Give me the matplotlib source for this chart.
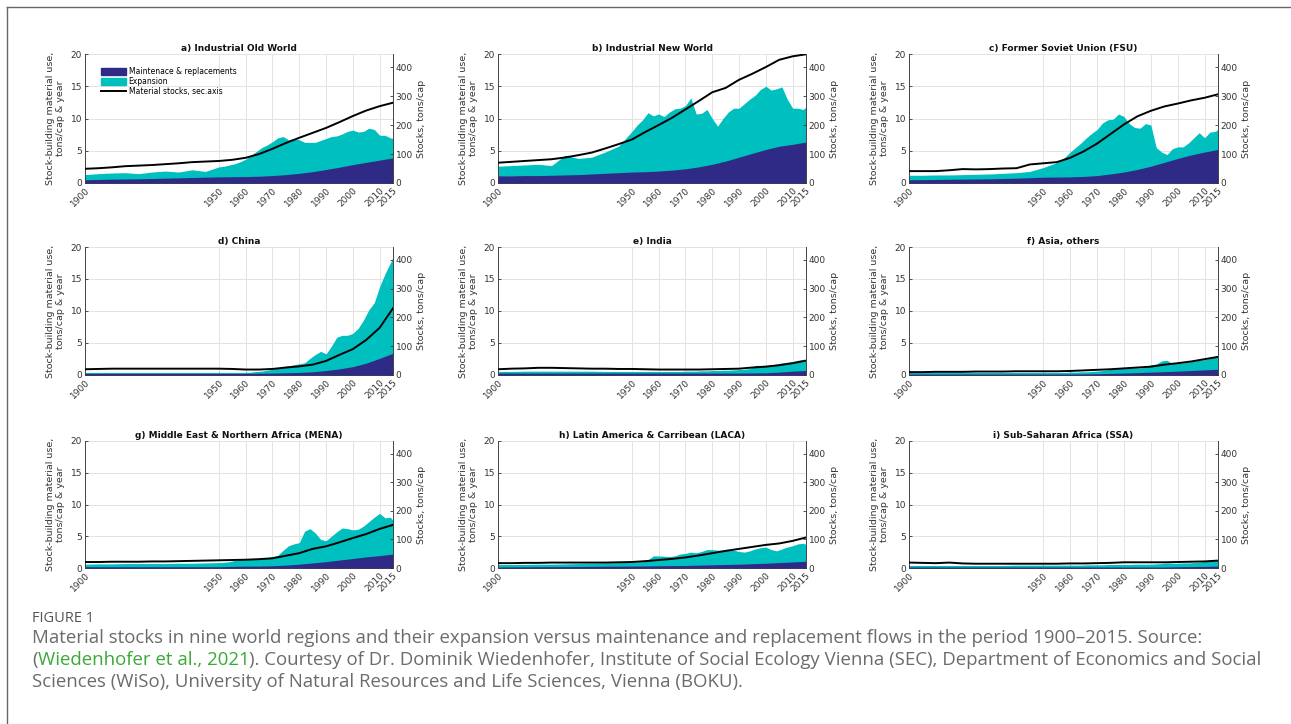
import matplotlib
matplotlib.use('Agg')
import matplotlib.pyplot as plt
from matplotlib.lines import Line2D
import numpy as np

# years for the stacked area (5-yr before 1950, 2-yr after) and for smooth series
years_fine = [1900, 1905, 1910, 1915, 1920, 1925, 1930, 1935, 1940, 1945] + list(range(1950, 2015, 2)) + [2015]
years_5 = list(range(1900, 2016, 5))

titles = ['a) Industrial Old World', 'b) Industrial New World', 'c) Former Soviet Union (FSU)',
          'd) China', 'e) India', 'f) Asia, others',
          'g) Middle East & Northern Africa (MENA)', 'h) Latin America & Carribean (LACA)',
          'i) Sub-Saharan Africa (SSA)']

# total stock-building material use (top of cyan area), tons/cap & year
tot_a = [1.3, 1.45, 1.55, 1.6, 1.45, 1.7, 1.85, 1.7, 2.05, 1.8,
         2.5, 2.6, 2.8, 3.0, 3.3, 3.7, 4.3, 4.9, 5.5, 5.9, 6.4, 7.0, 7.2, 6.7, 6.9, 6.7, 6.3, 6.3, 6.3, 6.6,
         6.9, 7.2, 7.3, 7.6, 8.0, 8.2, 7.9, 8.0, 8.5, 8.3, 7.4, 7.4, 7.0, 6.9]
tot_b = [2.6, 2.7, 2.8, 2.9, 2.7, 4.3, 3.8, 4.0, 4.8, 5.7,
         8.0, 9.0, 9.8, 10.9, 10.4, 10.7, 10.3, 11.0, 11.5, 11.6, 12.0, 13.2, 10.7, 10.8, 11.4, 10.0, 8.8, 10.0,
         11.0, 11.6, 11.6, 12.3, 13.0, 13.6, 14.5, 15.0, 14.4, 14.6, 14.9, 13.0, 11.6, 11.6, 11.4, 11.8]
tot_c = [1.2, 1.2, 1.25, 1.25, 1.3, 1.35, 1.4, 1.5, 1.6, 1.8,
         2.4, 2.7, 3.0, 3.4, 4.0, 4.8, 5.5, 6.2, 7.0, 7.7, 8.3, 9.3, 9.8, 9.9, 10.7, 10.3, 9.2, 8.6, 8.5, 9.2,
         9.0, 5.5, 4.8, 4.4, 5.3, 5.6, 5.6, 6.2, 7.0, 7.8, 7.0, 7.9, 8.0, 8.3]
tot_d = [0.4, 0.4, 0.4, 0.4, 0.4, 0.4, 0.4, 0.4, 0.4, 0.4,
         0.4, 0.4, 0.4, 0.4, 0.4, 0.4, 0.45, 0.55, 0.6, 0.75, 0.9, 1.1, 1.3, 1.45, 1.6, 1.75, 1.9, 2.6, 3.2, 3.7,
         3.3, 4.5, 5.9, 6.2, 6.2, 6.5, 7.3, 8.6, 10.2, 11.3, 13.8, 15.8, 17.5, 18.4]
tot_e = [0.55, 0.55, 0.6, 0.6, 0.6, 0.6, 0.6, 0.6, 0.55, 0.55,
         0.55, 0.55, 0.55, 0.55, 0.55, 0.55, 0.55, 0.55, 0.55, 0.55, 0.6, 0.6, 0.6, 0.65, 0.65, 0.7, 0.7, 0.75,
         0.75, 0.8, 0.85, 0.9, 1.0, 1.5, 1.5, 1.5, 1.6, 1.7, 1.9, 2.0, 2.1, 2.3, 2.45, 2.4]
tot_f = [0.4, 0.4, 0.4, 0.4, 0.4, 0.4, 0.4, 0.4, 0.4, 0.4,
         0.4, 0.4, 0.4, 0.4, 0.4, 0.45, 0.45, 0.5, 0.5, 0.55, 0.6, 0.7, 0.8, 0.95, 1.0, 1.0, 1.05, 1.1, 1.1, 1.2,
         1.6, 1.7, 2.2, 2.3, 1.8, 1.8, 1.9, 2.0, 2.2, 2.3, 2.4, 2.6, 2.8, 2.8]
tot_g = [0.6, 0.65, 0.65, 0.7, 0.7, 0.7, 0.7, 0.75, 0.75, 0.8,
         0.85, 0.9, 1.0, 1.2, 1.4, 1.5, 1.5, 1.45, 1.5, 1.6, 1.8, 2.0, 2.8, 3.5, 3.8, 4.0, 5.8, 6.2, 5.5, 4.5,
         4.3, 5.0, 5.7, 6.3, 6.2, 6.0, 6.1, 6.6, 7.3, 8.0, 8.6, 7.9, 8.0, 7.5]
tot_h = [0.55, 0.55, 0.55, 0.6, 0.6, 0.65, 0.7, 0.75, 0.8, 0.85,
         0.9, 0.95, 1.0, 1.3, 1.9, 1.9, 1.85, 1.8, 1.9, 2.2, 2.3, 2.5, 2.4, 2.6, 2.9, 2.9, 2.8, 2.8, 2.95, 2.8,
         2.6, 2.5, 2.7, 3.0, 3.2, 3.3, 2.9, 2.7, 3.0, 3.3, 3.5, 3.8, 3.9, 3.7]
tot_i = [0.4, 0.4, 0.4, 0.4, 0.4, 0.4, 0.4, 0.4, 0.45, 0.45,
         0.45, 0.45, 0.45, 0.45, 0.45, 0.45, 0.45, 0.45, 0.5, 0.5, 0.5, 0.5, 0.55, 0.55, 0.55, 0.55, 0.55, 0.6,
         0.6, 0.6, 0.6, 0.65, 0.7, 0.8, 0.75, 0.75, 0.8, 0.8, 0.85, 0.9, 1.0, 1.2, 1.3, 1.3]

# maintenance & replacements, tons/cap & year (5-yr steps)
mnt_a = [.5, .55, .6, .62, .65, .7, .75, .8, .85, .9, .95, .97, 1.0, 1.05, 1.15, 1.3, 1.5, 1.75, 2.1, 2.45, 2.85, 3.2, 3.55, 3.9]
mnt_b = [1.1, 1.1, 1.15, 1.15, 1.2, 1.25, 1.3, 1.4, 1.5, 1.6, 1.7, 1.75, 1.85, 2.0, 2.2, 2.5, 2.9, 3.4, 4.0, 4.6, 5.2, 5.7, 6.0, 6.35]
mnt_c = [.5, .52, .55, .58, .6, .62, .65, .7, .75, .82, .9, .92, .95, 1.02, 1.15, 1.4, 1.7, 2.1, 2.6, 3.2, 3.8, 4.35, 4.8, 5.2]
mnt_d = [.25, .25, .25, .25, .25, .25, .25, .25, .25, .25, .25, .25, .25, .28, .3, .35, .4, .5, .7, .95, 1.3, 1.85, 2.6, 3.4]
mnt_e = [.3, .3, .3, .3, .3, .3, .3, .3, .3, .3, .3, .3, .3, .3, .3, .3, .3, .3, .3, .32, .35, .45, .6, .7]
mnt_f = [.15, .15, .15, .15, .15, .15, .15, .15, .15, .15, .15, .15, .15, .17, .2, .25, .3, .37, .45, .52, .6, .7, .8, .9]
mnt_g = [.2, .2, .2, .2, .2, .2, .2, .2, .2, .2, .2, .25, .3, .3, .35, .45, .6, .8, 1.0, 1.25, 1.5, 1.75, 1.95, 2.2]
mnt_h = [.15, .17, .18, .2, .21, .22, .24, .26, .28, .29, .3, .32, .35, .37, .4, .45, .5, .55, .6, .68, .75, .85, .95, 1.05]
mnt_i = [.15, .15, .15, .15, .15, .15, .15, .15, .15, .15, .15, .15, .15, .15, .15, .15, .15, .15, .15, .15, .2, .22, .25, .3]

# material stocks, tons/cap (secondary axis, 5-yr steps)
stk_a = [49, 51, 54, 58, 60, 62, 65, 68, 72, 74, 76, 80, 87, 100, 118, 138, 156, 173, 190, 210, 231, 250, 265, 277]
stk_b = [70, 73, 76, 79, 82, 88, 96, 105, 119, 134, 150, 176, 200, 225, 254, 283, 313, 328, 356, 377, 400, 425, 437, 444]
stk_c = [41, 41, 41, 44, 48, 47, 48, 50, 51, 64, 68, 72, 87, 109, 136, 169, 202, 230, 249, 264, 274, 285, 294, 306]
stk_d = [20, 21, 22, 22, 22, 22, 22, 22, 22, 22, 22, 21, 19, 19, 21, 26, 30, 36, 49, 70, 90, 122, 164, 232]
stk_e = [20, 22, 23, 25, 25, 24, 23, 22, 22, 21, 21, 20, 19, 19, 19, 19, 20, 21, 22, 26, 29, 34, 41, 50]
stk_f = [10, 10, 11, 11, 11, 12, 12, 12, 13, 13, 13, 13, 14, 16, 18, 20, 23, 26, 29, 36, 41, 47, 55, 63]
stk_g = [21, 21, 22, 22, 22, 23, 23, 24, 25, 26, 27, 28, 29, 31, 34, 43, 52, 67, 76, 90, 105, 119, 137, 151]
stk_h = [17, 17, 18, 18, 19, 19, 19, 19, 19, 20, 21, 24, 28, 32, 37, 44, 52, 60, 67, 74, 81, 86, 95, 107]
stk_i = [19, 18, 17, 19, 16, 15, 15, 15, 15, 15, 15, 15, 16, 16, 17, 18, 20, 20, 20, 20, 21, 22, 23, 26]

totals = [tot_a, tot_b, tot_c, tot_d, tot_e, tot_f, tot_g, tot_h, tot_i]
maints = [mnt_a, mnt_b, mnt_c, mnt_d, mnt_e, mnt_f, mnt_g, mnt_h, mnt_i]
stocks = [stk_a, stk_b, stk_c, stk_d, stk_e, stk_f, stk_g, stk_h, stk_i]

xticks = [1900, 1950, 1960, 1970, 1980, 1990, 2000, 2010, 2015]

W, H = 1291, 724
fig = plt.figure(figsize=(W / 100, H / 100), dpi=100)

col_x = [85, 498, 909]
col_w = [308, 308, 309]
row_top = [54, 247, 441]
row_bot = [183, 375, 568]

c_maint = '#2f2a85'
c_exp = '#00bfbf'
tick_col = '#333333'

for k in range(9):
    r, c = divmod(k, 3)
    ax = fig.add_axes([col_x[c] / W, 1 - row_bot[r] / H, col_w[c] / W, (row_bot[r] - row_top[r]) / H])
    ax.fill_between(years_fine, 0, totals[k], color=c_exp, lw=0, zorder=2)
    ax.fill_between(years_5, 0, maints[k], color=c_maint, lw=0, zorder=3)
    ax.set_xlim(1900, 2015)
    ax.set_ylim(0, 20)
    ax.set_yticks([0, 5, 10, 15, 20])
    ax.set_xticks(xticks)
    ax.set_xticklabels([str(t) for t in xticks], rotation=45, ha='right', rotation_mode='anchor')
    ax.grid(True, color='#e3e3e3', lw=0.7)
    ax.set_axisbelow(True)
    ax.tick_params(labelsize=6.5, colors=tick_col, direction='in', length=2, width=0.6, pad=2)
    ax.spines['top'].set_visible(False)
    ax.spines['right'].set_visible(False)
    for s in ['left', 'bottom']:
        ax.spines[s].set_color('#444444')
        ax.spines[s].set_linewidth(0.7)
    ax.set_ylabel('Stock-building material use,\ntons/cap & year', fontsize=6.8, color=tick_col, labelpad=4,
                  linespacing=1.1)
    ax.set_title(titles[k], fontsize=6.5, fontweight='bold', color='#111111', pad=2)

    ax2 = ax.twinx()
    ax2.plot(years_5, stocks[k], color='black', lw=1.4, zorder=4)
    ax2.set_ylim(0, 445)
    ax2.set_yticks([0, 100, 200, 300, 400])
    ax2.set_xlim(1900, 2015)
    ax2.tick_params(labelsize=6.5, colors=tick_col, direction='in', length=2, width=0.6, pad=2)
    for s in ['top', 'left', 'bottom']:
        ax2.spines[s].set_visible(False)
    ax2.spines['right'].set_color('#444444')
    ax2.spines['right'].set_linewidth(0.7)
    ax2.set_ylabel('Stocks, tons/cap', fontsize=6.8, color=tick_col, labelpad=3)

    if k == 0:
        handles = [plt.Rectangle((0, 0), 1, 1, color=c_maint),
                   plt.Rectangle((0, 0), 1, 1, color=c_exp),
                   Line2D([0], [0], color='black', lw=1.4)]
        ax2.legend(handles, ['Maintenace & replacements', 'Expansion', 'Material stocks, sec.axis'],
                   loc='upper left', bbox_to_anchor=(0.04, 0.93), frameon=False, fontsize=5.5,
                   handlelength=3.2, handleheight=1.0, labelspacing=0.15, borderpad=0, handletextpad=0.4)

# frame around figure
fig.add_artist(Line2D([7 / W, 7 / W], [0, 1 - 7 / H], color='#666666', lw=1.0))
fig.add_artist(Line2D([7 / W, 1], [1 - 7 / H, 1 - 7 / H], color='#666666', lw=1.0))

# caption
cap_font = 'Open Sans'
cap_col = '#6b6b6b'
renderer = fig.canvas.get_renderer()

fig.text(32 / W, 1 - 622 / H, 'FIGURE 1', fontsize=10.5, color='#555555', family=cap_font, va='baseline')
line1 = fig.text(32 / W, 1 - 643 / H,
                 'Material stocks in nine world regions and their expansion versus maintenance and replacement '
                 'flows in the period 1900\u20132015. Source:', fontsize=10, color=cap_col, family=cap_font,
                 va='baseline')

parts = [('(', cap_col), ('Wiedenhofer et al., 2021', '#3aa935'),
         ('). Courtesy of Dr. Dominik Wiedenhofer, Institute of Social Ecology Vienna (SEC), Department of '
          'Economics and Social', cap_col)]
line2 = [fig.text(0, 1 - 665 / H, txt, fontsize=10, color=col, family=cap_font, va='baseline')
         for txt, col in parts]
# size so that the longest caption line spans about the same width as in the source
w2 = sum(t.get_window_extent(renderer).width for t in line2)
cap_size = 10 * (1262 - 32) / w2
line1.set_fontsize(cap_size)
x = 32
for t in line2:
    t.set_fontsize(cap_size)
    t.set_x(x / W)
    x = t.get_window_extent(renderer).x1
fig.text(32 / W, 1 - 687 / H,
         'Sciences (WiSo), University of Natural Resources and Life Sciences, Vienna (BOKU).',
         fontsize=cap_size, color=cap_col, family=cap_font, va='baseline')

fig.savefig('out.png', dpi=100)
